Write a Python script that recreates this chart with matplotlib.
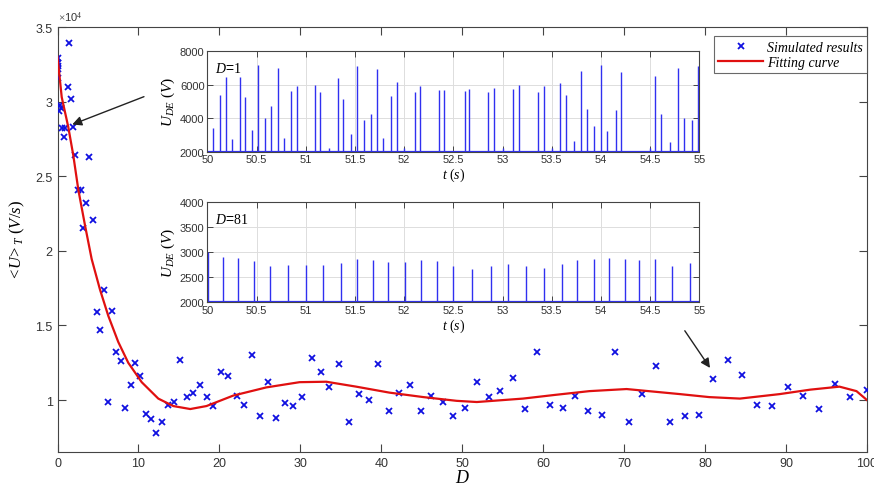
import matplotlib
matplotlib.use('Agg')
import matplotlib.pyplot as plt
from matplotlib.ticker import FuncFormatter
import numpy as np

plt.rcParams['font.family'] = ['Liberation Sans', 'DejaVu Sans']
plt.rcParams['mathtext.fontset'] = 'custom'
plt.rcParams['mathtext.rm'] = 'Liberation Serif'
plt.rcParams['mathtext.it'] = 'Liberation Serif:italic'

# simulated mean output vs D
sim_D = [1.42, 0.03, 0.1, 0.05, 0.1, 0.03, 1.26, 1.67, 0.3, 0.4, 0.2, 1.95, 0.5, 0.9, 0.85,
         2.16, 3.93, 2.57, 2.9, 3.52, 4.42, 3.19, 5.74, 4.84, 6.73, 5.25, 7.22, 7.8, 9.57, 10.19,
         6.27, 9.03, 8.33, 10.93, 11.54, 12.16, 12.94, 13.68, 14.38, 15.12, 15.95, 16.77, 17.6,
         18.42, 19.24, 20.15, 21.09, 22.12, 23.07, 23.97, 25.0, 26.03, 26.98, 28.09, 29.1, 30.15,
         31.38, 32.49, 33.56, 34.79, 35.99, 37.22, 38.42, 39.61, 40.93, 42.2, 43.56, 44.88, 46.2,
         47.63, 48.91, 50.31, 51.83, 53.31, 54.71, 56.27, 57.72, 59.24, 60.8, 62.44, 63.97, 65.55,
         67.26, 68.91, 70.56, 72.16, 73.89, 75.65, 77.47, 79.2, 80.96, 82.82, 84.54, 86.44, 88.25,
         90.27, 92.12, 94.1, 95.99, 97.93, 99.98]
sim_U = [33900, 32900, 32600, 32400, 32200, 31600, 31000, 30200, 29800, 29600, 29400, 28300, 28200, 28200, 27600,
         26400, 26300, 24100, 24100, 23200, 22100, 21500, 17400, 15900, 16000, 14700, 13200, 12600, 12500, 11600,
         9900, 11000, 9500, 9100, 8700, 7800, 8500, 9700, 9900, 12700, 10200, 10500, 11000,
         10200, 9600, 11900, 11600, 10300, 9700, 13000, 8900, 11200, 8800, 9800, 9600, 10200,
         12800, 11900, 10900, 12400, 8500, 10400, 10000, 12400, 9300, 10500, 11000, 9300, 10300,
         9900, 8900, 9500, 11200, 10200, 10600, 11500, 9400, 13200, 9700, 9500, 10300, 9300,
         9000, 13200, 8500, 10400, 12300, 8500, 8900, 9000, 11400, 12700, 11700, 9700, 9600,
         10900, 10300, 9400, 11100, 10200, 10700]

# fitted curve
fit_D = [0, 0.52, 1.33, 1.95, 2.57, 3.4, 4.22, 5.25, 6.27, 7.5, 8.74, 10.4, 12.45, 14.3, 16.4,
         18.4, 21.7, 25.8, 29.9, 33.2, 36.9, 41.0, 45.2, 49.3, 51.8, 57.5, 61.5, 65.7, 70.3, 76.9,
         80.5, 84.3, 89.2, 93.0, 96.6, 98.7, 100]
fit_U = [33000, 30300, 28300, 26400, 24100, 21700, 19450, 17400, 15650, 13900, 12500, 11200, 10100,
         9600, 9400, 9600, 10300, 10850, 11200, 11230, 10900, 10500, 10200, 9950, 9870, 10100, 10350,
         10600, 10740, 10400, 10200, 10100, 10400, 10700, 10900, 10600, 10000]

# U_DE spikes, D=1
t1 = [50.058, 50.125, 50.186, 50.254, 50.33, 50.386, 50.454, 50.52, 50.583, 50.65, 50.72, 50.78,
      50.855, 50.915, 51.095, 51.15, 51.24, 51.325, 51.383, 51.457, 51.52, 51.59, 51.66, 51.72,
      51.79, 51.87, 51.925, 52.0, 52.11, 52.16, 52.35, 52.41, 52.62, 52.66, 52.85, 52.91, 53.0,
      53.11, 53.17, 53.36, 53.42, 53.5, 53.58, 53.64, 53.73, 53.8, 53.86, 53.93, 54.0, 54.06,
      54.15, 54.2, 54.5, 54.55, 54.61, 54.7, 54.78, 54.84, 54.92, 54.99]
u1 = [3390, 5400, 6430, 2760, 6470, 5240, 3290, 7190, 3990, 4700, 6970, 2800,
      5620, 5940, 5990, 5540, 2250, 6390, 5140, 3050, 7130, 3910, 4250, 6930,
      2820, 5340, 6130, 2250, 5580, 5900, 5680, 5680, 5640, 5740, 5580, 5780, 2250,
      5750, 5960, 5540, 5940, 2250, 6090, 5400, 2620, 6830, 4540, 3510, 7170, 3250,
      4480, 6730, 2250, 6490, 4250, 2560, 6970, 4010, 3910, 7090]

# U_DE spikes, D=81
t81 = [50.01, 50.16, 50.315, 50.47, 50.64, 50.82, 51.0, 51.18, 51.36, 51.52, 51.68, 51.84, 52.01,
       52.17, 52.33, 52.5, 52.69, 52.88, 53.06, 53.24, 53.42, 53.6, 53.76, 53.93, 54.08, 54.24,
       54.39, 54.55, 54.72, 54.9]
u81 = [3000, 2894, 2887, 2821, 2715, 2742, 2735, 2735, 2775, 2861, 2841, 2795, 2808,
       2841, 2815, 2728, 2662, 2728, 2765, 2728, 2675, 2762, 2841, 2861, 2874, 2861,
       2841, 2861, 2728, 2775]

axis_grey = '#444444'
label_grey = '#333333'

fig = plt.figure(figsize=(8.74, 4.89), dpi=100)
ax = fig.add_axes([0.0658, 0.0742, 0.9262, 0.8685])

ax.plot(sim_D, sim_U, 'x', color='#1010e0', ms=5, mew=1.3, label='Simulated results', zorder=3)
ax.plot(fit_D, fit_U, '-', color='#e01010', lw=1.6, label='Fitting curve', zorder=4)

ax.set_xlim(0, 100)
ax.set_ylim(6540, 35000)
ax.set_xticks(np.arange(0, 101, 10))
ax.set_yticks([10000, 15000, 20000, 25000, 30000, 35000])
ax.yaxis.set_major_formatter(FuncFormatter(lambda v, p: ('%g' % (v / 1e4))))
ax.tick_params(direction='in', top=True, right=True, length=6, width=0.8,
               color=axis_grey, labelcolor=label_grey, labelsize=9)
for s in ax.spines.values():
    s.set_color(axis_grey)
    s.set_linewidth(0.8)

ax.set_xlabel('$D$', fontsize=13, labelpad=0)
ax.set_ylabel(r'$<\!U\!>_T\ (V/s)$', fontsize=12, labelpad=6)
ax.text(0.0, 1.006, r'$\times$10$^4$', transform=ax.transAxes, fontsize=8,
        color=label_grey, ha='left', va='bottom', family='Liberation Sans')

leg = ax.legend(loc='upper right', bbox_to_anchor=(1.0, 0.978), borderaxespad=0,
                frameon=True, fancybox=False, edgecolor=axis_grey, handlelength=3.2,
                handletextpad=0.3, borderpad=0.3, labelspacing=0.15,
                prop={'family': 'Liberation Serif', 'style': 'italic', 'size': 10})
leg.get_frame().set_linewidth(0.8)

# arrows to the two D values shown in the insets
ax.annotate('', xy=(1.5, 28400), xytext=(11.0, 30400),
            arrowprops=dict(arrowstyle='-|>', color='#222222', lw=1.0, mutation_scale=14))
ax.annotate('', xy=(80.8, 12000), xytext=(77.3, 14800),
            arrowprops=dict(arrowstyle='-|>', color='#222222', lw=1.0, mutation_scale=14))


def spike_inset(rect, t, u, ylim, yticks, tag):
    ia = fig.add_axes(rect)
    ia.vlines(t, ylim[0], u, color='#3030f0', lw=1.0)
    ia.axhline(ylim[0], color='#3030f0', lw=1.6)
    ia.set_xlim(50, 55)
    ia.set_ylim(*ylim)
    ia.set_xticks(np.arange(50, 55.01, 0.5))
    ia.set_xticklabels(['%g' % v for v in np.arange(50, 55.01, 0.5)])
    ia.set_yticks(yticks)
    ia.grid(True, color='#dddddd', lw=0.7)
    ia.set_axisbelow(True)
    ia.tick_params(direction='in', top=True, right=True, length=4, width=0.7,
                   color=axis_grey, labelcolor=label_grey, labelsize=8, pad=2)
    for s in ia.spines.values():
        s.set_color(axis_grey)
        s.set_linewidth(0.8)
    ia.set_xlabel('$t\\ (s)$', fontsize=10, labelpad=1)
    ia.set_ylabel('$U_{DE}\\ (V)$', fontsize=11, labelpad=2)
    ia.text(0.015, 0.9, tag, transform=ia.transAxes, fontsize=10,
            ha='left', va='top')
    return ia


spike_inset([0.2372, 0.6877, 0.563, 0.2059], t1, u1, (2000, 8000),
            [2000, 4000, 6000, 8000], '$D$=$1$')
spike_inset([0.2372, 0.3797, 0.563, 0.2057], t81, u81, (2000, 4000),
            [2000, 2500, 3000, 3500, 4000], '$D$=$81$')

fig.savefig('out.png', dpi=100)
